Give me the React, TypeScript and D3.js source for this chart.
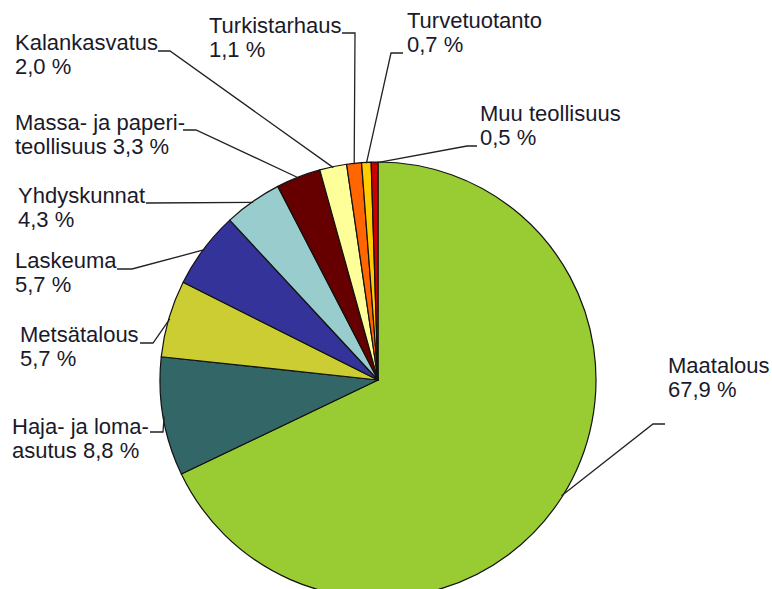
import React from "react";
import * as d3 from "d3";

const categories = [
  "Maatalous",
  "Haja- ja loma-asutus",
  "Metsätalous",
  "Laskeuma",
  "Yhdyskunnat",
  "Massa- ja paperiteollisuus",
  "Kalankasvatus",
  "Turkistarhaus",
  "Turvetuotanto",
  "Muu teollisuus",
];
const values = [67.9, 8.8, 5.7, 5.7, 4.3, 3.3, 2.0, 1.1, 0.7, 0.5];
const colors = [
  "#99CC33",
  "#336666",
  "#CCCC33",
  "#333399",
  "#99CCCC",
  "#660000",
  "#FFFF99",
  "#FF6600",
  "#FFCC00",
  "#CC0000",
];
// label text lines: first line; value is appended to the second line
const labelFirst = [
  "Maatalous",
  "Haja- ja loma-",
  "Metsätalous",
  "Laskeuma",
  "Yhdyskunnat",
  "Massa- ja paperi-",
  "Kalankasvatus",
  "Turkistarhaus",
  "Turvetuotanto",
  "Muu teollisuus",
];
const labelSecondPrefix = ["", "asutus ", "", "", "", "teollisuus ", "", "", "", ""];

// layout: text x, first baseline y, leader start (at text), knee
const labelLayout = [
  { tx: 668, ty: 373, sx: 665, sy: 424, kx: 653, ky: 424 },
  { tx: 12, ty: 434, sx: 150, sy: 432, kx: 163, ky: 432 },
  { tx: 20, ty: 342, sx: 140, sy: 343, kx: 153, ky: 343 },
  { tx: 15, ty: 268, sx: 117, sy: 269, kx: 132, ky: 269 },
  { tx: 18, ty: 203, sx: 146, sy: 203, kx: 147, ky: 203 },
  { tx: 15, ty: 130, sx: 183, sy: 130, kx: 196, ky: 130 },
  { tx: 15, ty: 50, sx: 158, sy: 51, kx: 170, ky: 51 },
  { tx: 209, ty: 33, sx: 342, sy: 33, kx: 355, ky: 33 },
  { tx: 407, ty: 28, sx: 403, sy: 53, kx: 391, ky: 53 },
  { tx: 480, ty: 121, sx: 477, sy: 146, kx: 467, ky: 146 },
];

const W = 772;
const H = 589;
const cx = 378;
const cy = 380;
const R = 218;
const fmt = (v: number) => d3.format(".1f")(v).replace(".", ",") + " %";

export default function App() {
  const data = categories.map((c, i) => ({ name: c, value: values[i], i }));
  const pie = d3
    .pie<any>()
    .sort(null)
    .value((d: any) => d.value)
    .startAngle(0)
    .endAngle(2 * Math.PI);
  const arcs = pie(data);
  const arc = d3.arc<any>().innerRadius(0).outerRadius(R);

  return (
    <svg
      width={W}
      height={H}
      style={{ position: "absolute", left: 0, top: 0, background: "#fff" }}
      fontFamily="'Liberation Sans', Arial, sans-serif"
      fontSize={22}
    >
      <g transform={`translate(${cx},${cy})`}>
        {arcs.map((a, i) => (
          <path
            key={i}
            d={arc(a) as string}
            fill={colors[i]}
            stroke="#111"
            strokeWidth={1.2}
            strokeLinejoin="round"
          />
        ))}
      </g>
      {arcs.map((a, i) => {
        const L = labelLayout[i];
        const mid = (a.startAngle + a.endAngle) / 2;
        const ex = cx + (R - 1) * Math.sin(mid);
        const ey = cy - (R - 1) * Math.cos(mid);
        return (
          <g key={i}>
            <polyline
              points={`${L.sx},${L.sy} ${L.kx},${L.ky} ${ex},${ey}`}
              fill="none"
              stroke="#222"
              strokeWidth={1.3}
            />
            <text x={L.tx} y={L.ty} fill="#1a1a2a">
              <tspan x={L.tx}>{labelFirst[i]}</tspan>
              <tspan x={L.tx} dy={24}>
                {labelSecondPrefix[i] + fmt(values[i])}
              </tspan>
            </text>
          </g>
        );
      })}
    </svg>
  );
}
